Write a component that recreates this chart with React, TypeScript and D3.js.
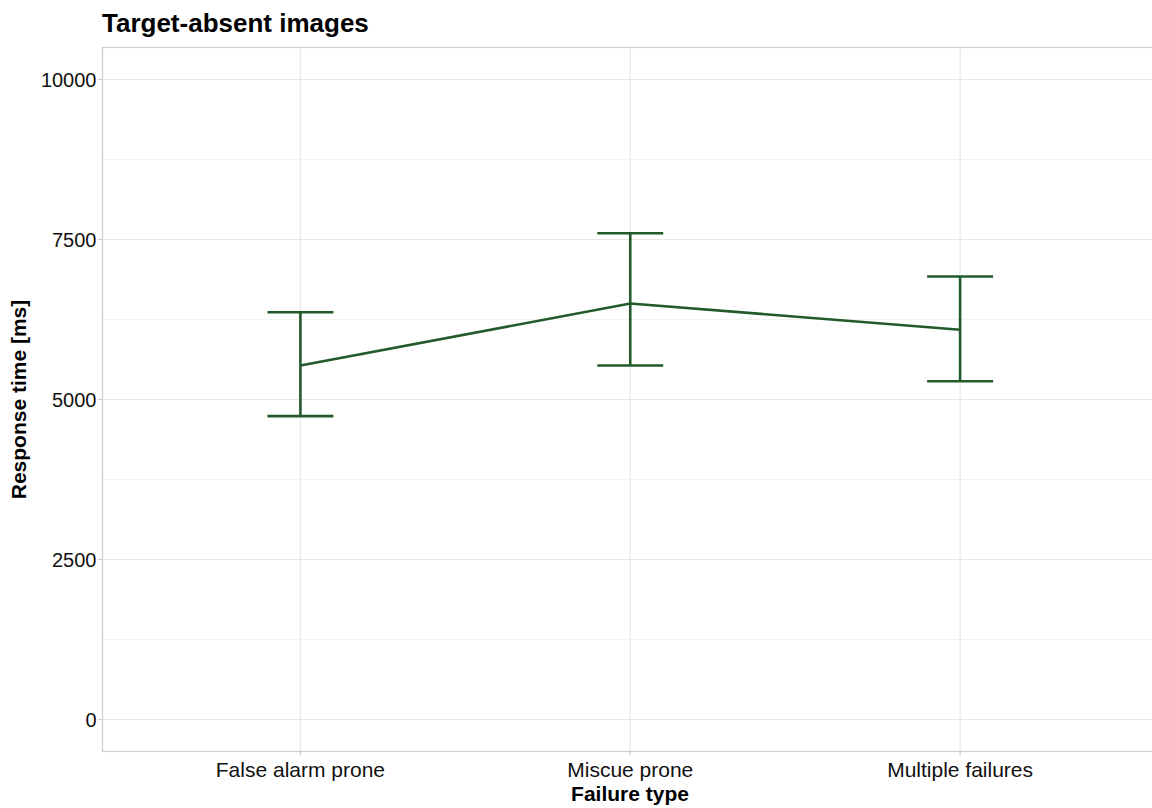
import React from "react";
import * as d3 from "d3";

const categories = ["False alarm prone", "Miscue prone", "Multiple failures"];
const means = [5531, 6500, 6090];
const lowers = [4740, 5531, 5286];
const uppers = [6364, 7598, 6922];
const yTicks = [0, 2500, 5000, 7500, 10000];
const yMinor = [1250, 3750, 6250, 8750];

const W = 1152;
const H = 808;
const left = 102.5;
const top = 47.5;
const bottom = 751.5;
const right = 1158;
const color = "#215a2b";

export default function App() {
  const y = d3.scaleLinear().domain([-500, 10500]).range([bottom, top]);
  const x = d3.scalePoint<string>().domain(categories).range([left, right]).padding(0.6);
  const step = x.step();
  const capHalf = step * 0.1;
  const line = d3
    .line<number>()
    .x((_, i) => x(categories[i]) as number)
    .y((d) => y(d));

  return (
    <svg
      width={W}
      height={H}
      style={{ position: "absolute", left: 0, top: 0, fontFamily: "Liberation Sans, Arial, sans-serif" }}
    >
      <rect x={0} y={0} width={W} height={H} fill="#fff" />
      {yMinor.map((t) => (
        <line key={"m" + t} x1={left} x2={right} y1={y(t)} y2={y(t)} stroke="#f3f3f3" strokeWidth={1} />
      ))}
      {yTicks.map((t) => (
        <line key={"g" + t} x1={left} x2={right} y1={y(t)} y2={y(t)} stroke="#e8e8e8" strokeWidth={1.2} />
      ))}
      {categories.map((c) => (
        <line key={"v" + c} x1={x(c)} x2={x(c)} y1={top} y2={bottom} stroke="#e8e8e8" strokeWidth={1.2} />
      ))}
      <rect x={left} y={top} width={right - left} height={bottom - top} fill="none" stroke="#cccccc" strokeWidth={1.2} />
      {yTicks.map((t) => (
        <g key={"t" + t}>
          <line x1={left - 4} x2={left} y1={y(t)} y2={y(t)} stroke="#cccccc" strokeWidth={1.2} />
          <text x={left - 6} y={y(t)} dy="0.36em" textAnchor="end" fontSize={20} fill="#111">
            {t}
          </text>
        </g>
      ))}
      {categories.map((c) => (
        <g key={"x" + c}>
          <line x1={x(c)} x2={x(c)} y1={bottom} y2={bottom + 4} stroke="#cccccc" strokeWidth={1.2} />
          <text x={x(c)} y={bottom + 25} textAnchor="middle" fontSize={21} fill="#111">
            {c}
          </text>
        </g>
      ))}
      <path d={line(means) || ""} fill="none" stroke={color} strokeWidth={2.6} />
      {categories.map((c, i) => {
        const cx = x(c) as number;
        return (
          <g key={"e" + c} stroke={color} strokeWidth={2.6}>
            <line x1={cx} x2={cx} y1={y(lowers[i])} y2={y(uppers[i])} />
            <line x1={cx - capHalf} x2={cx + capHalf} y1={y(uppers[i])} y2={y(uppers[i])} />
            <line x1={cx - capHalf} x2={cx + capHalf} y1={y(lowers[i])} y2={y(lowers[i])} />
          </g>
        );
      })}
      <text x={102} y={32} fontSize={26} fontWeight="bold" fill="#000">
        Target-absent images
      </text>
      <text x={630} y={801} textAnchor="middle" fontSize={21} fontWeight="bold" fill="#000">
        Failure type
      </text>
      <text
        transform={`translate(26, ${(top + bottom) / 2}) rotate(-90)`}
        textAnchor="middle"
        fontSize={21}
        fontWeight="bold"
        fill="#000"
      >
        Response time [ms]
      </text>
    </svg>
  );
}
